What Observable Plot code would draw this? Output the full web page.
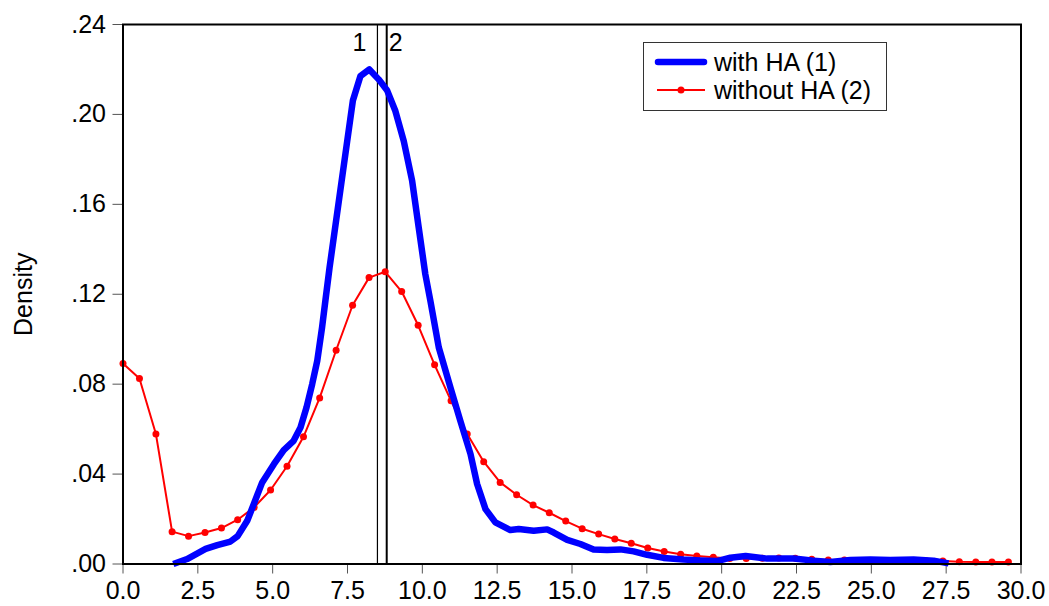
<!DOCTYPE html>
<html>
<head>
<meta charset="utf-8">
<script src="https://cdn.jsdelivr.net/npm/d3@7"></script>
<script src="https://cdn.jsdelivr.net/npm/@observablehq/plot@0.6"></script>
<style>
  body { margin: 0; background: #fff; }
  #wrap { position: relative; width: 1049px; height: 606px; font-family: "Liberation Sans", Arial, sans-serif; }
  #legend { position: absolute; left: 643px; top: 42px; width: 242px; height: 67px; border: 1.5px solid #333; background: #fff; font-size: 25px; color: #000; }
  #legend .row { position: absolute; left: 0; height: 28px; display: flex; align-items: center; }
  #legend svg { margin-left: 10px; margin-right: 6px; }
</style>
</head>
<body>
<div id="wrap"></div>
<script>
// Red series: without HA (2)
const redX = [0.00,0.55,1.10,1.64,2.19,2.74,3.29,3.83,4.38,4.93,5.48,6.03,6.57,7.12,7.67,8.22,8.76,9.31,9.86,10.41,10.96,11.50,12.05,12.60,13.15,13.70,14.24,14.79,15.34,15.89,16.43,16.98,17.53,18.08,18.63,19.17,19.72,20.27,20.82,21.36,21.91,22.46,23.01,23.56,24.10,24.65,25.20,25.75,26.29,26.84,27.39,27.94,28.49,29.03,29.58];
const redY = [0.0892,0.0825,0.0578,0.0144,0.0124,0.0140,0.0160,0.0197,0.0252,0.0329,0.0435,0.0566,0.0739,0.0951,0.1151,0.1274,0.1300,0.1212,0.1062,0.0886,0.0726,0.0578,0.0455,0.0363,0.0308,0.0262,0.0228,0.0191,0.0157,0.0133,0.0111,0.0092,0.0071,0.0056,0.0043,0.0036,0.0030,0.0024,0.0025,0.0026,0.0027,0.0026,0.0021,0.0018,0.0018,0.0016,0.0015,0.0015,0.0014,0.0013,0.0013,0.0010,0.0009,0.0009,0.0009];

// Blue series: with HA (1)
const blueX = [1.68,2.14,2.76,3.15,3.59,3.83,4.15,4.37,4.65,5.04,5.37,5.70,5.93,6.13,6.32,6.49,6.65,6.76,6.90,7.49,7.68,7.93,8.23,8.54,8.82,9.10,9.38,9.66,9.88,10.10,10.27,10.55,10.94,11.27,11.61,11.83,12.11,12.44,12.94,13.22,13.72,14.17,14.39,14.84,15.28,15.72,16.17,16.62,17.06,17.51,18.06,18.73,19.29,19.85,20.29,20.80,21.52,22.41,23.07,23.63,24.30,24.97,25.63,26.41,27.08,27.58];
const blueY = [0.0000,0.0022,0.0067,0.0084,0.0100,0.0124,0.0192,0.0267,0.0363,0.0444,0.0507,0.0548,0.0607,0.0696,0.0800,0.0904,0.1052,0.1170,0.1318,0.1881,0.2062,0.2170,0.2200,0.2156,0.2108,0.2015,0.1881,0.1704,0.1496,0.1289,0.1170,0.0963,0.0785,0.0637,0.0489,0.0356,0.0244,0.0185,0.0151,0.0156,0.0148,0.0154,0.0140,0.0107,0.0089,0.0064,0.0062,0.0065,0.0056,0.0041,0.0027,0.0020,0.0016,0.0013,0.0028,0.0036,0.0024,0.0024,0.0015,0.0009,0.0018,0.0020,0.0018,0.0020,0.0015,0.0003];

// Mean markers
const meanX = [8.50, 8.81];
const meanLabels = ["1", "2"];

const xTicks = [0,2.5,5,7.5,10,12.5,15,17.5,20,22.5,25,27.5,30];
const yTicks = [0,0.04,0.08,0.12,0.16,0.20,0.24];
const legendLabels = ["with HA (1)", "without HA (2)"];

const red = redX.map((x, i) => ({x, y: redY[i]}));
const blue = blueX.map((x, i) => ({x, y: blueY[i]}));
const means = meanX.map((x, i) => ({x, label: meanLabels[i]}));

const fmtY = v => d3.format(".2f")(v).replace(/^0/, "");
const fmtX = d3.format(".1f");

const chart = Plot.plot({
  width: 1049,
  height: 606,
  marginLeft: 122.5,
  marginRight: 28.5,
  marginTop: 24,
  marginBottom: 42.5,
  style: { fontFamily: "'Liberation Sans', Arial, sans-serif", fontSize: "25px", background: "#fff", color: "#000" },
  x: { domain: [0, 30] },
  y: { domain: [0, 0.24] },
  marks: [
    Plot.axisX({ ticks: xTicks, tickFormat: fmtX, tickSize: 10, tickPadding: 7, stroke: "#555", label: null, fontSize: 25 }),
    Plot.axisY({ ticks: yTicks, tickFormat: fmtY, tickSize: 10, tickPadding: 7, stroke: "#555", label: "Density", labelAnchor: "center", labelArrow: "none", labelOffset: 109, fontSize: 25 }),
    Plot.ruleX(means.slice(0, 1), { x: "x", stroke: "#000", strokeWidth: 1.2 }),
    Plot.ruleX(means.slice(1), { x: "x", stroke: "#000", strokeWidth: 2 }),
    Plot.text(means.slice(0, 1), { x: "x", y: () => 0.24, text: "label", textAnchor: "end", dx: -11, dy: 18, fontSize: 25, fill: "#000" }),
    Plot.text(means.slice(1), { x: "x", y: () => 0.24, text: "label", textAnchor: "start", dx: 2, dy: 18, fontSize: 25, fill: "#000" }),
    Plot.line(red, { x: "x", y: "y", stroke: "#ff0000", strokeWidth: 2 }),
    Plot.dot(red, { x: "x", y: "y", r: 3.5, fill: "#ff0000", stroke: "none" }),
    Plot.line(blue, { x: "x", y: "y", stroke: "#0000ff", strokeWidth: 6.5, curve: "linear", strokeLinejoin: "round", strokeLinecap: "butt" }),
    Plot.frame({ stroke: "#000", strokeWidth: 2 })
  ]
});

const wrap = document.getElementById("wrap");
wrap.appendChild(chart);

// Legend overlay inside the plot frame
const legend = document.createElement("div");
legend.id = "legend";
legend.innerHTML = `
  <div class="row" style="top:5px">
    <svg width="54" height="10"><line x1="4" y1="5" x2="50" y2="5" stroke="#0000ff" stroke-width="6.5" stroke-linecap="round"/></svg>
    <span>${legendLabels[0]}</span>
  </div>
  <div class="row" style="top:33px">
    <svg width="54" height="10"><line x1="3" y1="5" x2="51" y2="5" stroke="#ff0000" stroke-width="2"/><circle cx="27" cy="5" r="3.5" fill="#ff0000"/></svg>
    <span>${legendLabels[1]}</span>
  </div>`;
wrap.appendChild(legend);
</script>
</body>
</html>
